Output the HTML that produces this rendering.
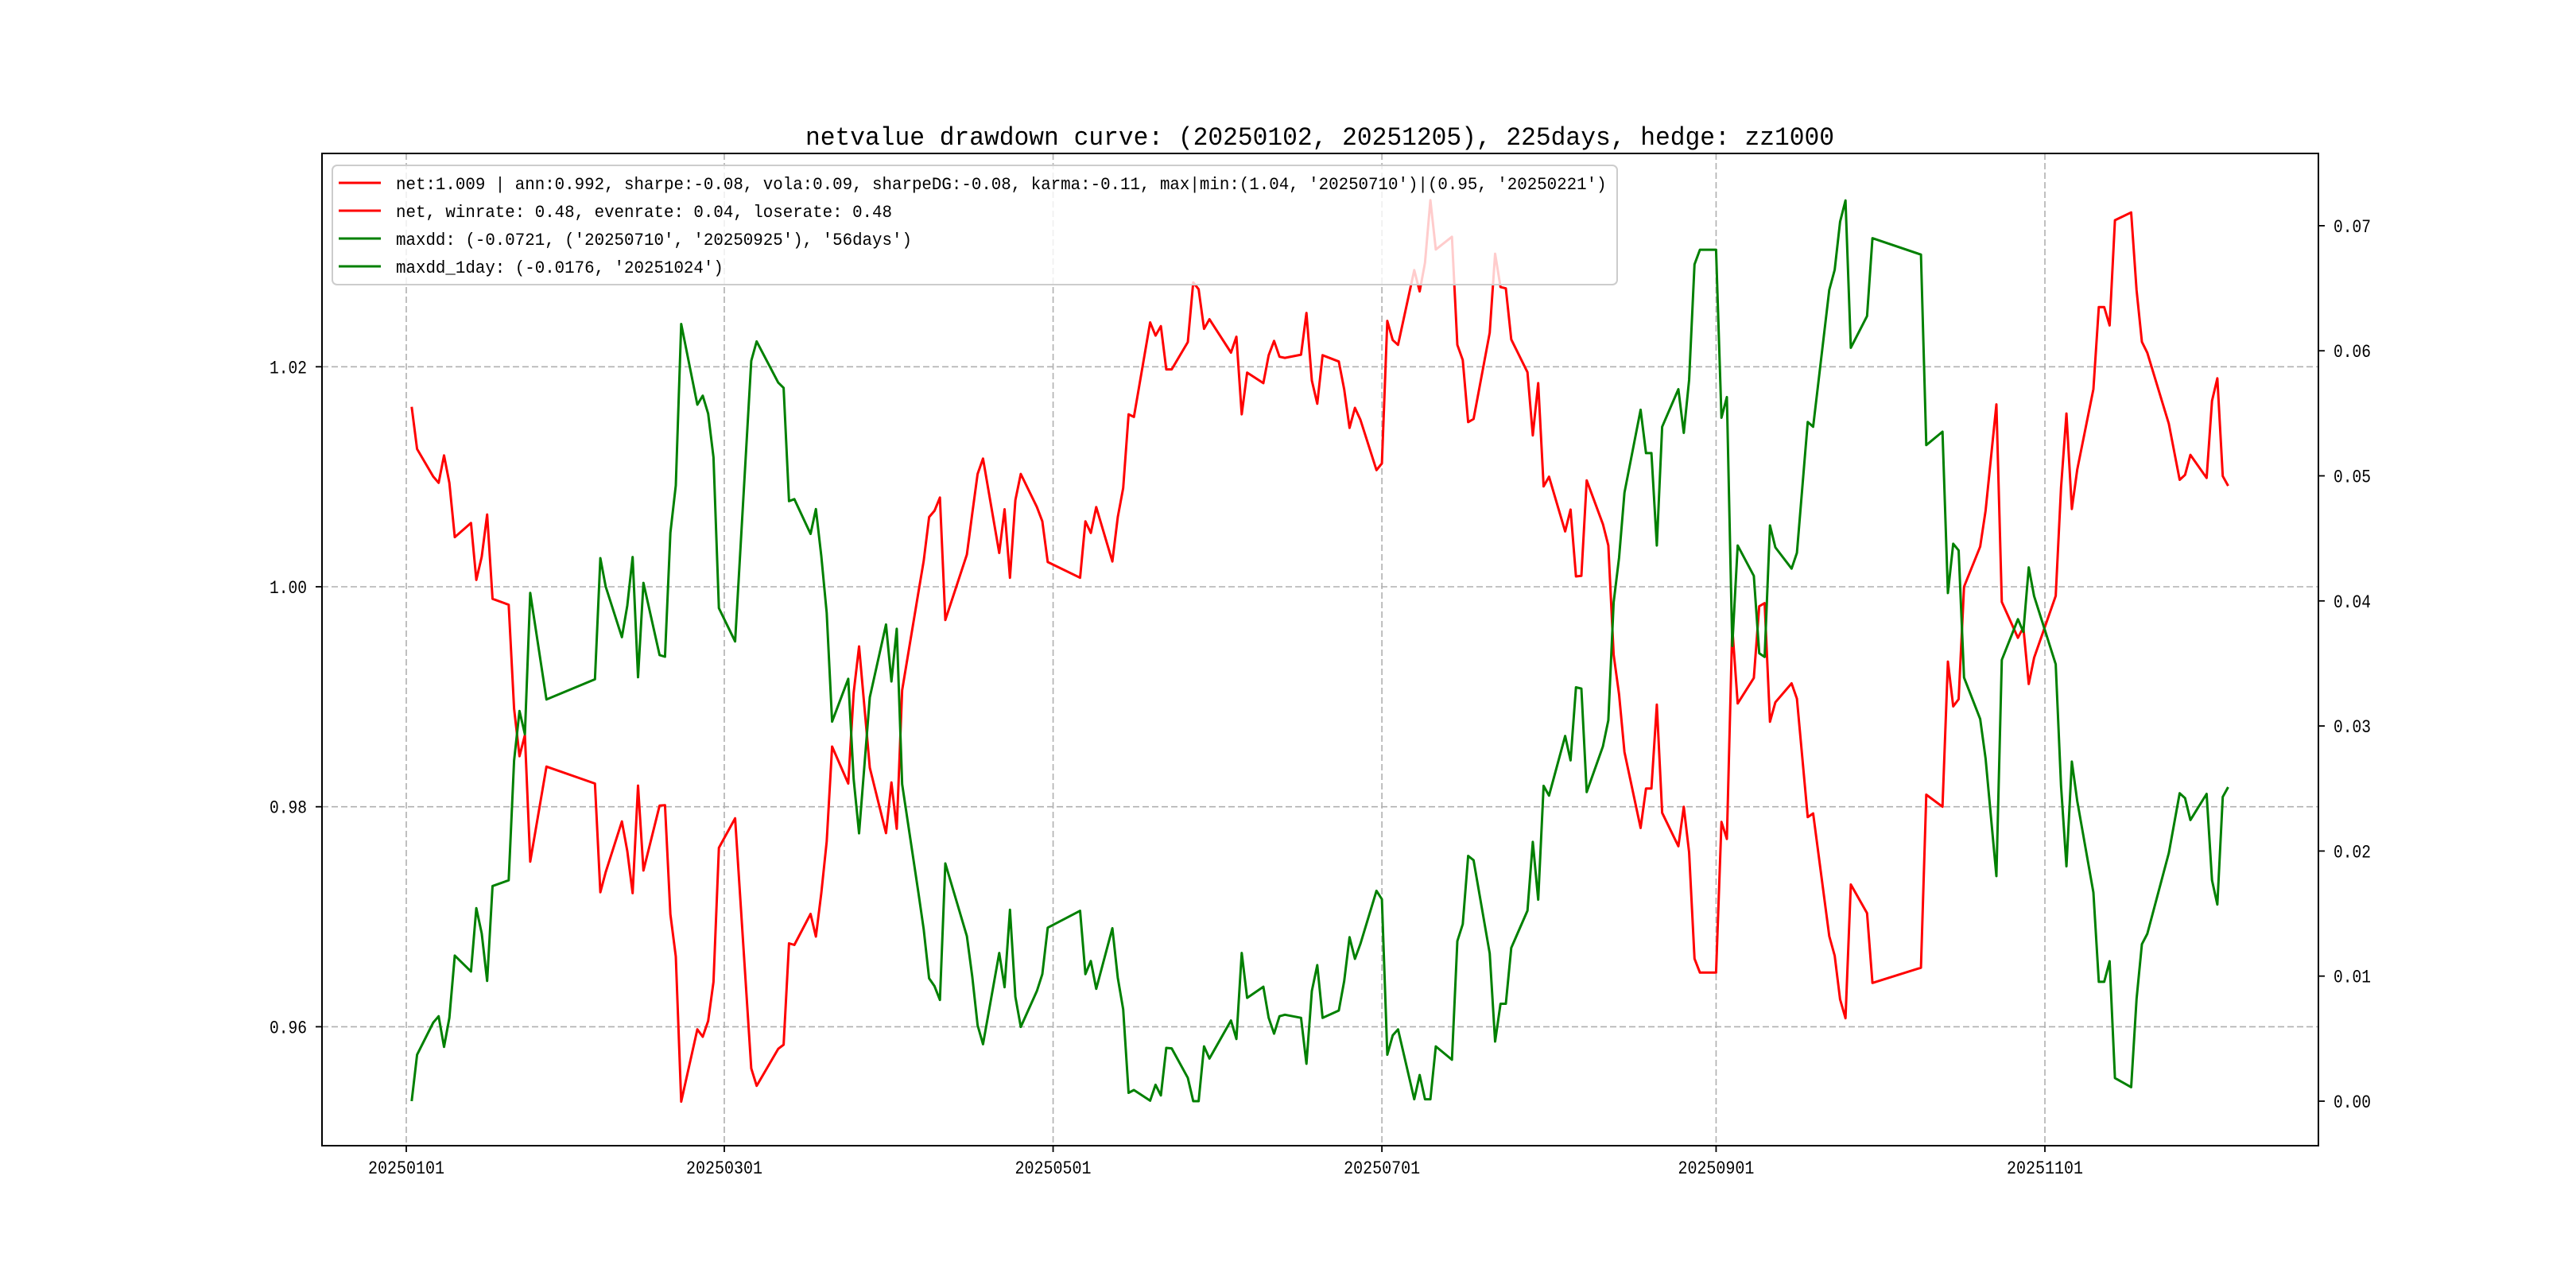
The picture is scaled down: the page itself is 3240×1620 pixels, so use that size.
<!DOCTYPE html>
<html><head><meta charset="utf-8"><style>html,body{margin:0;padding:0;background:#fff}svg{display:block}</style></head>
<body>
<svg id="chart" xmlns="http://www.w3.org/2000/svg" width="3240" height="1620" viewBox="0 0 3240 1620">
<rect width="3240" height="1620" fill="#fff"/>
<text x="1660" y="182" text-anchor="middle" font-family="Liberation Mono, monospace" font-size="32" textLength="1294" lengthAdjust="spacingAndGlyphs">netvalue drawdown curve: (20250102, 20251205), 225days, hedge: zz1000</text>
<g id="grid"></g><g id="plot"></g><g id="axes"></g><g id="legend"></g>
</svg>
<script>
// days since 2025-01-01
const days=[1,2,5,6,7,8,9,12,13,14,15,16,19,20,21,22,23,26,35,36,37,40,41,42,43,44,47,48,49,50,51,54,55,56,57,58,61,64,65,69,70,71,72,75,76,77,78,79,82,83,84,86,89,
90,91,92,95,96,97,98,99,100,104,105,106,107,110,111,112,113,114,117,118,119,125,126,127,128,131,132,133,134,135,138,139,140,141,142,145,146,147,148,149,153,154,155,156,159,160,161,162,163,166,167,168,169,170,173,174,175,176,177,180,181,182,
183,184,187,188,189,190,191,194,195,196,197,198,201,202,203,204,205,208,209,210,211,212,215,216,217,218,219,222,223,224,225,226,229,230,231,232,233,236,237,238,239,240,243,244,245,246,247,250,251,252,253,254,257,258,260,261,264,265,266,267,268,271,272,
281,282,285,286,287,288,289,292,293,295,296,299,300,301,302,306,307,308,309,310,313,314,315,316,317,320,321,322,323,327,329,330,331,334,335,336,337,338];
const netValues=[1.01636,1.01252,1.01002,1.00945,1.01194,1.00945,1.00451,1.00580,1.00062,1.00273,1.00657,0.99890,0.99837,0.98892,0.98460,0.98652,0.97501,0.98365,0.98211,0.97223,0.97405,0.97866,0.97597,0.97214,0.98192,0.97420,0.98010,0.98014,0.97022,0.96638,0.95319,0.95976,0.95909,0.96053,0.96408,0.97626,0.97895,0.95621,0.95463,0.95799,0.95837,0.96758,0.96744,0.97026,0.96820,0.97214,0.97684,0.98547,0.98211,0.99036,0.99458,0.98355,0.97760,
0.98221,0.97799,0.99060,0.99947,1.00235,1.00633,1.00691,1.00811,0.99698,1.00293,1.00667,1.01026,1.01165,1.00307,1.00705,1.00082,1.00787,1.01026,1.00724,1.00595,1.00225,1.00082,1.00595,1.00489,1.00724,1.00230,1.00633,1.00897,1.01568,1.01544,1.02403,1.02283,1.02369,1.01976,1.01976,1.02225,1.02767,1.02705,1.02345,1.02432,1.02129,1.02273,1.01568,1.01947,1.01851,1.02105,1.02235,1.02091,1.02081,1.02110,1.02489,1.01875,1.01664,1.02105,1.02048,1.01794,1.01444,1.01626,1.01520,1.01060,1.01122,1.02417,
1.02243,1.02199,1.02879,1.02685,1.02945,1.03514,1.03066,1.03182,1.02199,1.02061,1.01497,1.01525,1.02309,1.03028,1.02724,1.02713,1.02249,1.01950,1.01376,1.01851,1.00912,1.01000,1.00503,1.00702,1.00094,1.00099,1.00967,1.00569,1.00376,0.99381,0.99022,0.98497,0.97807,0.98166,0.98166,0.98928,0.97945,0.97641,0.98000,0.97586,0.96619,0.96492,0.96492,0.97862,0.97707,0.99630,0.98939,0.99171,0.99823,0.99851,0.98773,0.98950,0.99122,0.98983,0.97906,0.97939,0.96823,0.96646,0.96249,0.96077,0.97293,0.97033,0.96398,
0.96536,0.98110,0.98000,0.99320,0.98912,0.98978,1.00000,1.00365,1.00691,1.01658,0.99862,0.99536,0.99630,0.99116,0.99354,0.99917,1.00901,1.01575,1.00707,1.01066,1.01796,1.02542,1.02542,1.02376,1.03332,1.03403,1.02696,1.02227,1.02127,1.01481,1.00972,1.01017,1.01199,1.00989,1.01691,1.01895,1.01006,1.00917];
const ddValues=[0,0.00371,0.00628,0.00679,0.00434,0.00666,0.01164,0.01037,0.01543,0.01341,0.00961,0.01720,0.01766,0.02723,0.03120,0.02934,0.04064,0.03212,0.03373,0.04342,0.04115,0.03710,0.03963,0.04351,0.03390,0.04144,0.03567,0.03554,0.04545,0.04924,0.06214,0.05569,0.05641,0.05497,0.05148,0.03942,0.03676,0.05919,0.06075,0.05746,0.05704,0.04798,0.04814,0.04536,0.04734,0.04359,0.03904,0.03035,0.03377,0.02576,0.02142,0.03229,0.03811,
0.03356,0.03777,0.02534,0.01669,0.01374,0.00982,0.00919,0.00809,0.01901,0.01320,0.00995,0.00607,0.00455,0.01185,0.00911,0.01530,0.00835,0.00594,0.00881,0.01016,0.01387,0.01522,0.01016,0.01121,0.00898,0.01383,0.00987,0.00734,0.00067,0.00089,0.00004,0.00131,0.00046,0.00426,0.00422,0.00186,0,0,0.00438,0.00341,0.00645,0.00497,0.01185,0.00826,0.00915,0.00666,0.00540,0.00679,0.00691,0.00666,0.00299,0.00881,0.01088,0.00666,0.00725,0.00961,0.01311,0.01138,0.01256,0.01682,0.01615,0.00371,
0.00526,0.00574,0.00015,0.00209,0.00015,0.00015,0.00438,0.00331,0.01280,0.01416,0.01961,0.01927,0.01182,0.00477,0.00779,0.00779,0.01226,0.01523,0.02073,0.01611,0.02521,0.02443,0.02920,0.02725,0.03309,0.03299,0.02472,0.02837,0.03046,0.03990,0.04345,0.04866,0.05528,0.05182,0.05182,0.04443,0.05392,0.05693,0.05343,0.05766,0.06691,0.06808,0.06808,0.05465,0.05630,0.03640,0.04443,0.04200,0.03582,0.03552,0.04603,0.04428,0.04258,0.04384,0.05431,0.05392,0.06487,0.06647,0.07032,0.07202,0.06024,0.06277,0.06900,
0.06769,0.05246,0.05353,0.04063,0.04457,0.04404,0.03387,0.03056,0.02740,0.01800,0.03528,0.03854,0.03752,0.04268,0.04039,0.03494,0.02521,0.01878,0.02715,0.02399,0.01669,0.00954,0.00954,0.01119,0.00185,0.00112,0.00818,0.01255,0.01338,0.01985,0.02462,0.02423,0.02248,0.02457,0.01766,0.01572,0.02433,0.02511];
const xTickDays=[0,59,120,181,243,304];
const xTickLabels=["20250101","20250301","20250501","20250701","20250901","20251101"];
const leftTicks=[0.96,0.98,1.00,1.02];
const leftTickLabels=["0.96","0.98","1.00","1.02"];
const rightTicks=[0,0.01,0.02,0.03,0.04,0.05,0.06,0.07];
const rightTickLabels=["0.00","0.01","0.02","0.03","0.04","0.05","0.06","0.07"];
const legendLabels=["net:1.009 | ann:0.992, sharpe:-0.08, vola:0.09, sharpeDG:-0.08, karma:-0.11, max|min:(1.04, '20250710')|(0.95, '20250221')","net, winrate: 0.48, evenrate: 0.04, loserate: 0.48","maxdd: (-0.0721, ('20250710', '20250925'), '56days')","maxdd_1day: (-0.0176, '20251024')"];
const legendColors=["#ff0000","#ff0000","#008000","#008000"];

const NS="http://www.w3.org/2000/svg";
const L=405,R=2916,T=193,B=1441;
const xs=d=>511+d*6.7796;
const yL=v=>738-(v-1.0)*13835;
const yR=v=>1385-v*15730;
function mk(tag,attrs,parent){const e=document.createElementNS(NS,tag);for(const k in attrs)e.setAttribute(k,attrs[k]);parent.appendChild(e);return e;}
const grid=document.getElementById('grid'),plot=document.getElementById('plot'),axes=document.getElementById('axes'),legend=document.getElementById('legend');
const F="Liberation Mono, monospace";
xTickDays.forEach((d,i)=>{
  const g=mk('line',{x1:xs(d),x2:xs(d),y1:T,y2:B,stroke:'#b0b0b0','stroke-width':1.6,'stroke-dasharray':'8,4'},grid);
  
  
  const t=mk('line',{x1:xs(d),x2:xs(d),y1:B,y2:B+8,stroke:'#000','stroke-width':1.8},axes);
  
  
  const tx=mk('text',{x:xs(d),y:1476,'text-anchor':'middle','font-family':F,'font-size':23,textLength:96,lengthAdjust:'spacingAndGlyphs'},axes);
  tx.textContent=xTickLabels[i];
  
  
});
leftTicks.forEach((v,i)=>{
  const g=mk('line',{x1:L,x2:R,y1:yL(v),y2:yL(v),stroke:'#b0b0b0','stroke-width':1.6,'stroke-dasharray':'8,4'},grid);
  
  
  const t=mk('line',{x1:L-8,x2:L,y1:yL(v),y2:yL(v),stroke:'#000','stroke-width':1.8},axes);
  
  
  const tx=mk('text',{x:386,y:yL(v)+8,'text-anchor':'end','font-family':F,'font-size':23,textLength:47,lengthAdjust:'spacingAndGlyphs'},axes);
  tx.textContent=leftTickLabels[i];
  
  
});
rightTicks.forEach((v,i)=>{
  const t=mk('line',{x1:R,x2:R+8,y1:yR(v),y2:yR(v),stroke:'#000','stroke-width':1.8},axes);
  
  
  const tx=mk('text',{x:2935,y:yR(v)+8,'font-family':F,'font-size':23,textLength:47,lengthAdjust:'spacingAndGlyphs'},axes);
  tx.textContent=rightTickLabels[i];
  
  
});
const netPts=days.map((d,i)=>xs(d).toFixed(1)+','+yL(netValues[i]).toFixed(1)).join(' ');
const netLine=mk('polyline',{points:netPts,fill:'none',stroke:'#ff0000','stroke-width':3,'stroke-linejoin':'round'},plot);


const ddPts=days.map((d,i)=>xs(d).toFixed(1)+','+yR(ddValues[i]).toFixed(1)).join(' ');
const ddLine=mk('polyline',{points:ddPts,fill:'none',stroke:'#008000','stroke-width':3,'stroke-linejoin':'round'},plot);


const frame=mk('rect',{x:L,y:T,width:R-L,height:B-T,fill:'none',stroke:'#000','stroke-width':2},axes);


const box=mk('rect',{x:418,y:208,width:1616,height:150,rx:6,fill:'#fff','fill-opacity':0.8,stroke:'#cccccc','stroke-width':2},legend);


const rowsY=[230,265,300,335];
legendLabels.forEach((lab,i)=>{
  const h=mk('line',{x1:426,x2:479,y1:rowsY[i],y2:rowsY[i],stroke:legendColors[i],'stroke-width':3},legend);
  
  
  const a={x:498,y:rowsY[i]+8,'font-family':F,'font-size':22};
  a.textLength=lab.length*12.48;a.lengthAdjust='spacingAndGlyphs';
  const tx=mk('text',a,legend);
  tx.textContent=lab;
  
  
});
</script>
</body></html>
